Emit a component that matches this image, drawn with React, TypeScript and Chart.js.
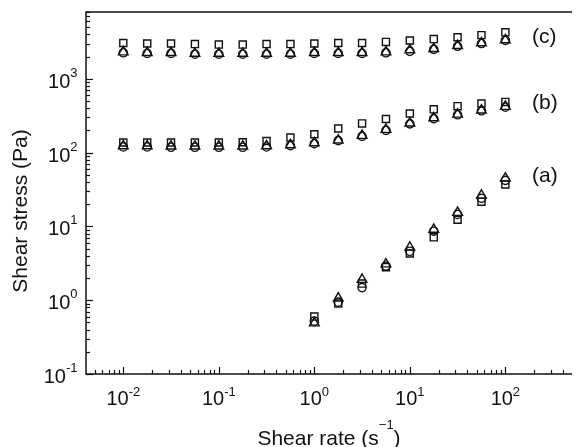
import { useEffect, useRef } from 'react';
import { Chart, registerables } from 'chart.js';

Chart.register(...registerables);

// ---- data ----
const shearRates = [0.01, 0.0178, 0.0316, 0.0562, 0.1, 0.178, 0.316, 0.562, 1, 1.78, 3.16, 5.62, 10, 17.8, 31.6, 56.2, 100];
const shearRatesA = [1, 1.78, 3.16, 5.62, 10, 17.8, 31.6, 56.2, 100];

const cSquares = [3050, 3000, 3000, 2950, 2900, 2900, 2950, 2950, 3000, 3050, 3050, 3150, 3300, 3450, 3650, 3900, 4250];
const cCircles = [2250, 2200, 2200, 2150, 2150, 2150, 2150, 2150, 2200, 2200, 2200, 2250, 2350, 2500, 2750, 3000, 3300];
const cTriangles = [2300, 2250, 2250, 2200, 2200, 2200, 2200, 2200, 2250, 2250, 2250, 2300, 2450, 2550, 2800, 3050, 3350];

const bSquares = [137, 137, 137, 137, 137, 138, 143, 160, 177, 212, 248, 285, 338, 385, 425, 462, 485];
const bCircles = [119, 119, 118, 118, 118, 118, 119, 124, 132, 145, 166, 200, 245, 288, 325, 368, 412];
const bTriangles = [123, 123, 122, 122, 122, 122, 123, 127, 135, 147, 170, 205, 250, 295, 330, 375, 420];

const aSquares = [0.6, 0.9, 1.68, 2.8, 4.3, 7.1, 12.3, 21.6, 37];
const aCircles = [0.52, 0.94, 1.48, 2.9, 4.6, 8.6, 14.5, 24, 42];
const aTriangles = [0.49, 1.06, 1.9, 3.08, 5.2, 9.1, 15.4, 26.3, 45];

const xTickExponents = ['-2', '-1', '0', '1', '2'];
const yTickExponents = ['-1', '0', '1', '2', '3'];

const groupLabels = ['(a)', '(b)', '(c)'];
const groupLabelX = [190, 190, 190];
const groupLabelY = [48, 470, 3700];

const xTitleMain = 'Shear rate (s';
const xTitleSup = '\u22121';
const xTitleEnd = ')';
const yTitle = 'Shear stress (Pa)';

const X_MIN = 0.004069;
const X_MAX = 475;
const Y_MIN = 0.1;
const Y_MAX = 8020;

const FONT = '"Liberation Sans", Arial, Helvetica, sans-serif';
const INK = '#111111';

function pts(xs: number[], ys: number[]) {
  return xs.map((x, i) => ({ x, y: ys[i] }));
}

function drawPow(ctx: CanvasRenderingContext2D, base: string, exp: string, x: number, yBase: number,
  align: 'center' | 'right', baseSize: number, expSize: number, raise: number) {
  ctx.font = `${baseSize}px ${FONT}`;
  const wb = ctx.measureText(base).width;
  ctx.font = `${expSize}px ${FONT}`;
  const we = ctx.measureText(exp).width;
  const start = align === 'center' ? x - (wb + we) / 2 : x - wb - we;
  ctx.textAlign = 'left';
  ctx.textBaseline = 'alphabetic';
  ctx.font = `${baseSize}px ${FONT}`;
  ctx.fillText(base, start, yBase);
  ctx.font = `${expSize}px ${FONT}`;
  ctx.fillText(exp, start + wb, yBase - raise);
}

const axesPlugin = {
  id: 'paperAxes',
  afterDraw(chart: any) {
    const { ctx, chartArea, scales } = chart;
    const { left, top, right, bottom } = chartArea;
    const xs = scales.x;
    const ys = scales.y;
    ctx.save();
    ctx.fillStyle = INK;
    ctx.strokeStyle = INK;

    // frame (left, bottom, top)
    ctx.lineWidth = 1.5;
    ctx.beginPath();
    ctx.moveTo(right + 2, top);
    ctx.lineTo(left, top);
    ctx.lineTo(left, bottom);
    ctx.lineTo(right + 2, bottom);
    ctx.stroke();

    // ticks
    ctx.lineWidth = 1.2;
    for (let d = -4; d <= 4; d++) {
      for (let m = 1; m <= 9; m++) {
        const v = m * Math.pow(10, d);
        const len = m === 1 ? 7 : 4;
        if (v >= X_MIN && v <= X_MAX) {
          const px = Math.round(xs.getPixelForValue(v)) + 0.5;
          ctx.beginPath();
          ctx.moveTo(px, bottom);
          ctx.lineTo(px, bottom - len);
          ctx.stroke();
        }
        if (v >= Y_MIN && v <= Y_MAX) {
          const py = Math.round(ys.getPixelForValue(v)) + 0.5;
          ctx.beginPath();
          ctx.moveTo(left, py);
          ctx.lineTo(left + len, py);
          ctx.stroke();
        }
      }
    }

    // tick labels
    xTickExponents.forEach((e) => {
      const px = xs.getPixelForValue(Math.pow(10, Number(e)));
      drawPow(ctx, '10', e, px, bottom + 31, 'center', 20, 13, 9.5);
    });
    yTickExponents.forEach((e) => {
      const py = ys.getPixelForValue(Math.pow(10, Number(e)));
      drawPow(ctx, '10', e, left - 8.5, py + 9, 'right', 20, 13, 11);
    });

    // x title
    ctx.font = `21px ${FONT}`;
    const w1 = ctx.measureText(xTitleMain).width;
    const w3 = ctx.measureText(xTitleEnd).width;
    ctx.font = `13px ${FONT}`;
    const w2 = ctx.measureText(xTitleSup).width;
    const cx = (left + right) / 2 + 1;
    const sx = cx - (w1 + w2 + w3) / 2;
    const tb = 444.5;
    ctx.textAlign = 'left';
    ctx.textBaseline = 'alphabetic';
    ctx.font = `21px ${FONT}`;
    ctx.fillText(xTitleMain, sx, tb);
    ctx.font = `13px ${FONT}`;
    ctx.fillText(xTitleSup, sx + w1, tb - 16);
    ctx.font = `21px ${FONT}`;
    ctx.fillText(xTitleEnd, sx + w1 + w2, tb);

    // y title
    ctx.save();
    ctx.translate(26.5, 211);
    ctx.rotate(-Math.PI / 2);
    ctx.font = `21px ${FONT}`;
    ctx.textAlign = 'center';
    ctx.textBaseline = 'alphabetic';
    ctx.fillText(yTitle, 0, 0);
    ctx.restore();

    // group labels
    ctx.font = `21px ${FONT}`;
    ctx.textAlign = 'left';
    ctx.textBaseline = 'middle';
    groupLabels.forEach((t, i) => {
      ctx.fillText(t, xs.getPixelForValue(groupLabelX[i]), ys.getPixelForValue(groupLabelY[i]));
    });

    ctx.restore();
  },
};

function ds(label: string, xs: number[], ys: number[], style: string, r: number) {
  return {
    label,
    data: pts(xs, ys),
    pointStyle: style,
    pointRadius: r,
    pointHoverRadius: r,
    borderColor: INK,
    backgroundColor: 'rgba(0,0,0,0)',
    pointBorderWidth: 1.4,
    borderWidth: 1.4,
    showLine: false,
  };
}

export default function App() {
  const ref = useRef<HTMLCanvasElement | null>(null);
  useEffect(() => {
    if (!ref.current) return;
    const chart = new Chart(ref.current, {
      type: 'scatter',
      data: {
        datasets: [
          ds('(a) square', shearRatesA, aSquares, 'rect', 5),
          ds('(a) circle', shearRatesA, aCircles, 'circle', 4.1),
          ds('(a) triangle', shearRatesA, aTriangles, 'triangle', 5.6),
          ds('(b) square', shearRates, bSquares, 'rect', 5),
          ds('(b) circle', shearRates, bCircles, 'circle', 4.1),
          ds('(b) triangle', shearRates, bTriangles, 'triangle', 5.6),
          ds('(c) square', shearRates, cSquares, 'rect', 5),
          ds('(c) circle', shearRates, cCircles, 'circle', 4.1),
          ds('(c) triangle', shearRates, cTriangles, 'triangle', 5.6),
        ] as any,
      },
      options: {
        animation: false,
        responsive: true,
        maintainAspectRatio: false,
        layout: { padding: { left: 86, top: 12, right: 0, bottom: 73 } },
        plugins: { legend: { display: false }, tooltip: { enabled: false } },
        scales: {
          x: { type: 'logarithmic', min: X_MIN, max: X_MAX, display: false },
          y: { type: 'logarithmic', min: Y_MIN, max: Y_MAX, display: false },
        },
      },
      plugins: [axesPlugin],
    });
    return () => chart.destroy();
  }, []);
  return (
    <div style={{ position: 'fixed', left: 0, top: 0, width: 577, height: 447, background: '#fff' }}>
      <canvas ref={ref} />
    </div>
  );
}
